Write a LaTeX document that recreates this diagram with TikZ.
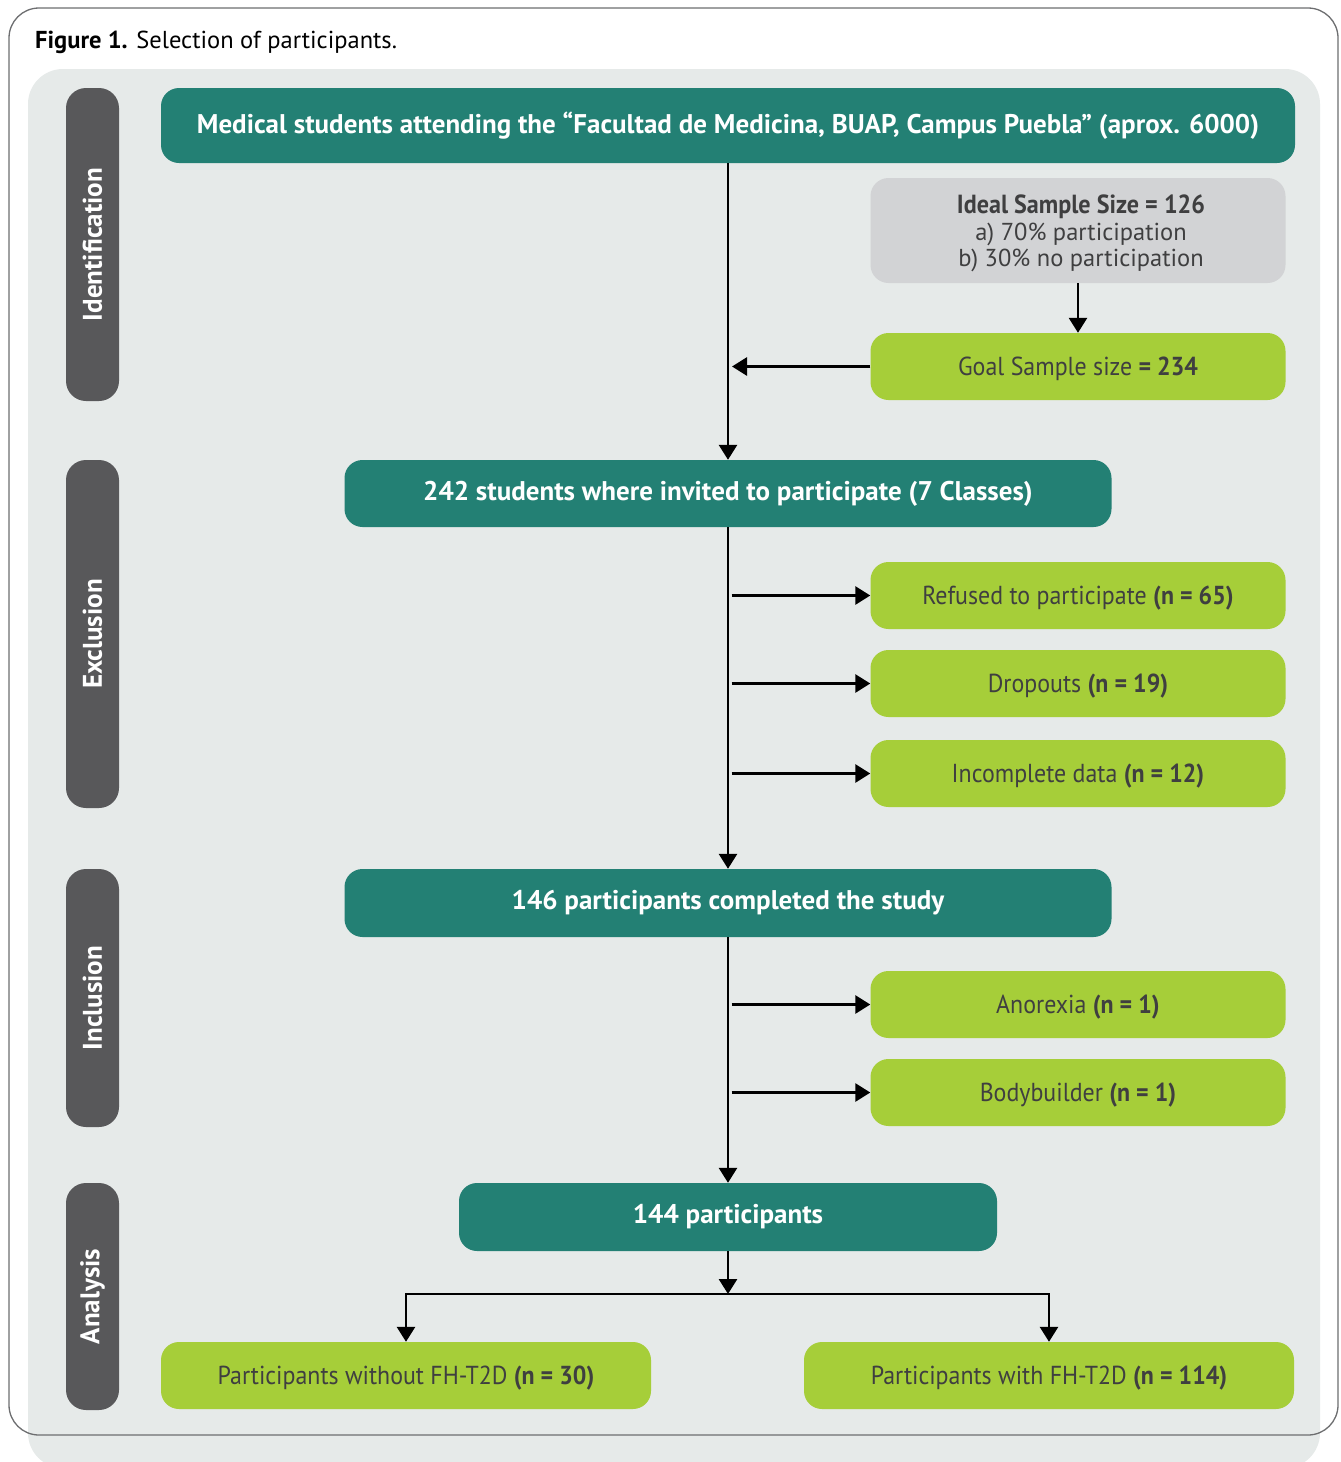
\documentclass[tikz,border=0pt]{standalone}
\usepackage{fontspec}
\setmainfont{PT Sans}
\newfontfamily\narrowfont[FakeStretch=0.92]{PT Sans}
\usetikzlibrary{arrows.meta,calc}
\definecolor{teal1}{HTML}{238074}
\definecolor{lime1}{HTML}{A6CE39}
\definecolor{panel}{HTML}{E6EAE9}
\definecolor{side}{HTML}{58585A}
\definecolor{greybox}{HTML}{D2D3D5}
\definecolor{txt}{HTML}{3F3F40}
\definecolor{frame}{HTML}{6D6E70}
\tikzset{
  x=1pt,y=-1pt,
  basebox/.style={rounded corners=18pt, inner sep=0pt, align=center},
  tealbox/.style={basebox, fill=teal1, text=white, font=\fontsize{27}{30}\selectfont\bfseries, minimum height=#1},
  limebox/.style={basebox, fill=lime1, text=txt, font=\narrowfont\fontsize{26}{30}\selectfont, minimum width=415pt, minimum height=67pt, text depth=0pt},
  greyboxst/.style={basebox, fill=greybox, minimum width=415pt, minimum height=105pt},
  greytext/.style={inner sep=0pt, align=center, text=txt, font=\fontsize{24.5}{26.5}\selectfont},
  sidebox/.style={rounded corners=20pt, fill=side, minimum width=53pt, inner sep=0pt},
  sidetext/.style={text=white, font=\fontsize{27}{30}\selectfont\bfseries, rotate=90},
  arr/.style={line width=2.8pt, -{Triangle[length=15pt,width=18pt]}},
  frombar/.style={arr, shorten <=3.5pt}
}
\begin{document}
\begin{tikzpicture}
\useasboundingbox (0,0) rectangle (1341,1462);
% frame and panel
\fill[white, rounded corners=30pt] (9,8) rectangle (1338,1435);
\fill[panel, rounded corners=35pt] (28,69) rectangle (1320,1468);
\draw[frame, line width=1.3pt, rounded corners=30pt] (9,8) rectangle (1338,1435);
\node[anchor=base west, inner sep=0pt, font=\fontsize{24.5}{28}\selectfont] (title) at (35,48) {\textbf{Figure 1.} Selection of participants.};

% side labels
\node[sidebox, minimum height=313pt] (sid1) at (92.5,244.5) {};
\node[sidetext] (sidt1) at (sid1.center) {Identification};
\node[sidebox, minimum height=348pt] (sid2) at (92.5,634) {};
\node[sidetext] (sidt2) at (sid2.center) {Exclusion};
\node[sidebox, minimum height=258pt] (sid3) at (92.5,998) {};
\node[sidetext] (sidt3) at (sid3.center) {Inclusion};
\node[sidebox, minimum height=227pt] (sid4) at (92.5,1296.5) {};
\node[sidetext] (sidt4) at (sid4.center) {Analysis};

% main boxes
\node[tealbox=75pt, minimum width=1134pt] (top) at (728,125.5) {Medical students attending the “Facultad de Medicina, BUAP, Campus Puebla” (aprox. 6000)};
\node[tealbox=67pt, minimum width=767pt] (inv) at (728,493.5) {242 students where invited to participate (7 Classes)};
\node[tealbox=68pt, minimum width=767pt] (comp) at (728,903) {146 participants completed the study};
\node[tealbox=68pt, minimum width=538pt] (fin) at (728,1217) {144 participants};

\node[greyboxst] (ideal) at (1078,230.5) {};
\node[greytext] (idealtxt) at ([xshift=3pt,yshift=-3pt]ideal.center) {{\narrowfont\bfseries\fontsize{26.2}{26.5}\selectfont Ideal Sample Size = 126}\\a) 70\% participation\\b) 30\% no participation};
\node[limebox] (goal) at (1078,366.5) {Goal Sample size \textbf{= 234}};
\node[limebox] (ref) at (1078,595.5) {Refused to participate \textbf{(n = 65)}};
\node[limebox] (drop) at (1078,683.5) {Dropouts \textbf{(n = 19)}};
\node[limebox] (inc) at (1078,773.5) {Incomplete data \textbf{(n = 12)}};
\node[limebox] (ano) at (1078,1004.5) {Anorexia \textbf{(n = 1)}};
\node[limebox] (body) at (1078,1092.5) {Bodybuilder \textbf{(n = 1)}};
\node[limebox, minimum width=490pt] (wo) at (406,1375.5) {Participants without FH-T2D \textbf{(n = 30)}};
\node[limebox, minimum width=490pt] (wi) at (1049,1375.5) {Participants with FH-T2D \textbf{(n = 114)}};

% connectors
\draw[arr] (top.south) -- (inv.north);
\draw[arr, shorten >=4pt] (goal.west) -- (goal.west -| top.south);
\draw[arr] (ideal.south) -- (goal.north);
\draw[arr] (inv.south) -- (comp.north);
\draw[frombar] (ref.west -| inv.south) -- (ref.west);
\draw[frombar] (drop.west -| inv.south) -- (drop.west);
\draw[frombar] (inc.west -| inv.south) -- (inc.west);
\draw[arr] (comp.south) -- (fin.north);
\draw[frombar] (ano.west -| comp.south) -- (ano.west);
\draw[frombar] (body.west -| comp.south) -- (body.west);
\coordinate (split) at (728,1294);
\draw[arr] (fin.south) -- (split);
\draw[arr] (split) -| (wo.north);
\draw[arr] (split) -| (wi.north);
\end{tikzpicture}
\end{document}
